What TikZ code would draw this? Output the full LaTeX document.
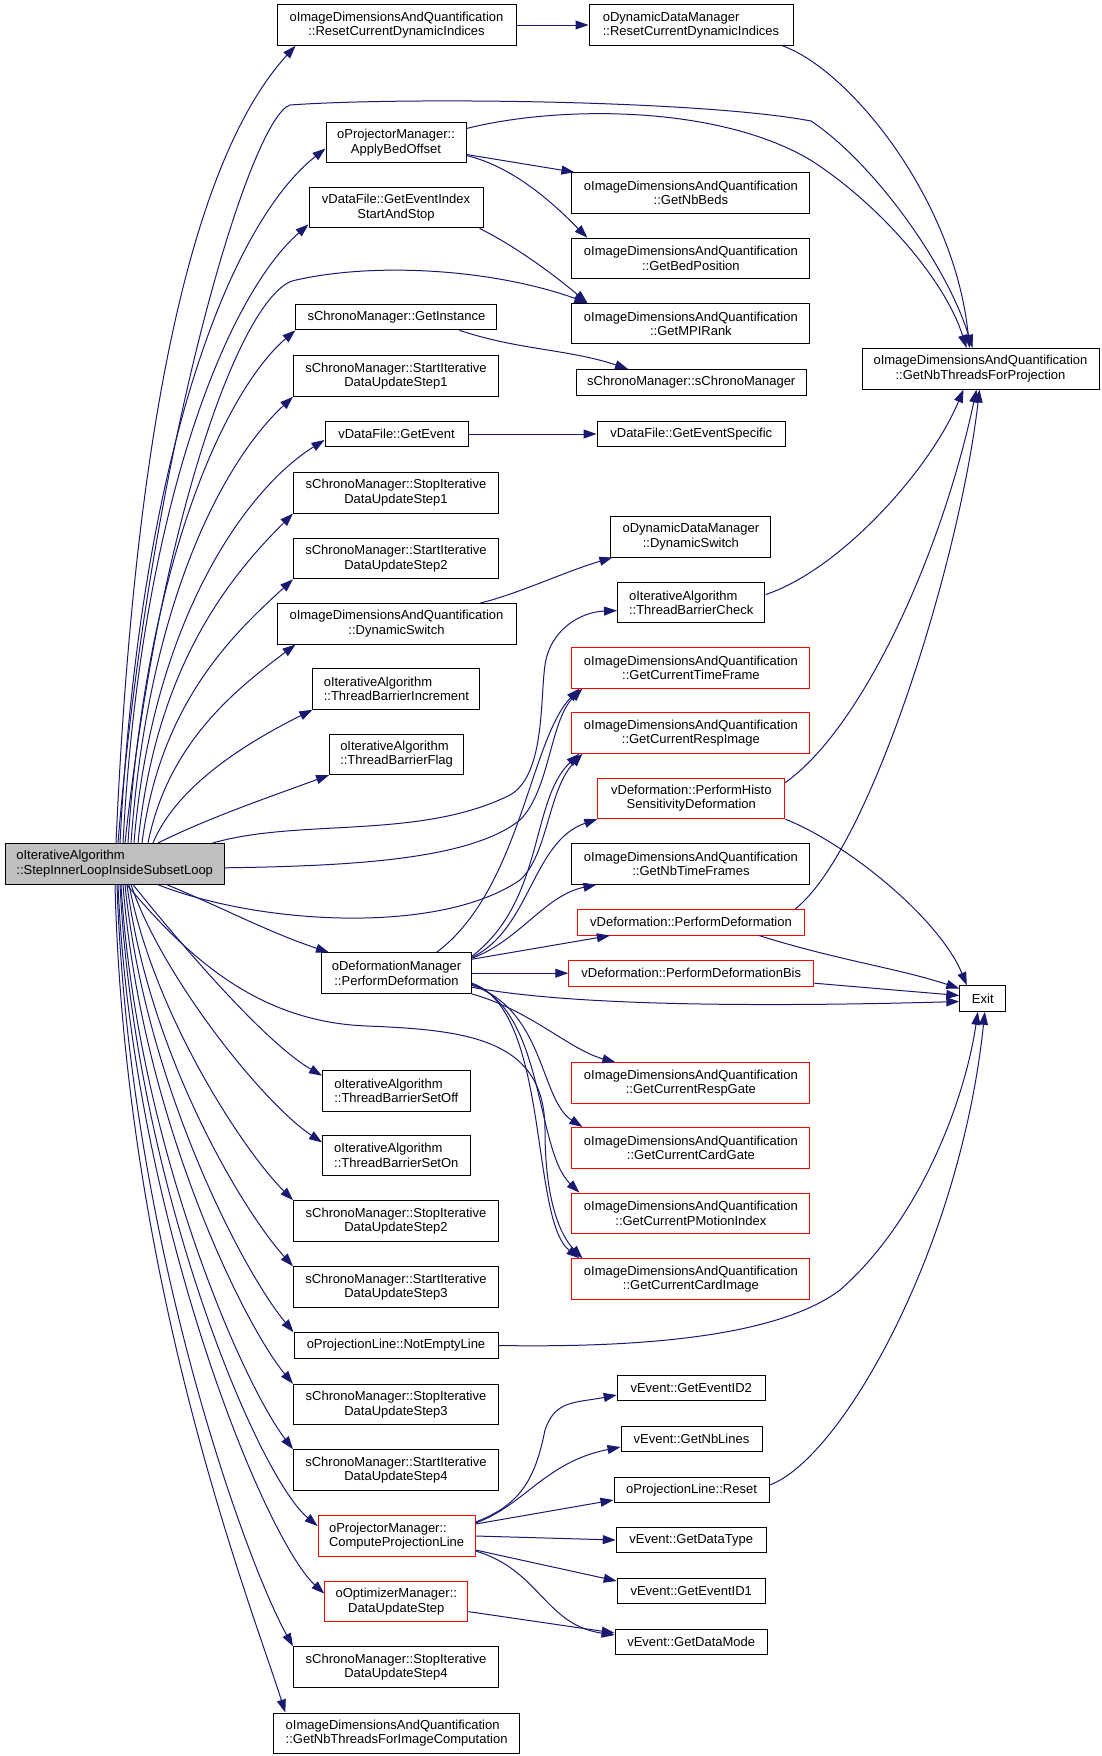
\documentclass[tikz,border=0pt]{standalone}
\usepackage{fontspec}
\setmainfont{Liberation Sans}
\usepackage{xcolor}
\usetikzlibrary{arrows.meta, calc}
\definecolor{edgeblue}{RGB}{25, 25, 112}
\definecolor{maingray}{RGB}{191, 191, 191}
\tikzset{> = { Triangle[length = 13pt, width = 9pt] }}
\tikzset{
	fn/.style = { draw, rectangle, fill = white, line width = 1pt, inner xsep = 3pt, inner ysep = 2pt, minimum height = 40.6pt, align = center, font = \fontsize{13}{14.4}\selectfont },
	fnred/.style = { fn, draw = red },
	fnline/.style = { minimum height = 25.6pt },
	calls/.style = { ->, draw = edgeblue, line width = 1pt },
}

\begin{document}
\begin{tikzpicture}[x = 1pt, y = -1pt]
		\fill [white] (0, 0) rectangle (1101, 1756);

		\node [fn, fill = maingray, align = left, minimum width = 219.4pt] (main) at (114.7, 863.8) {oIterativeAlgorithm\\::StepInnerLoopInsideSubsetLoop};

		\node [fn, minimum width = 239pt] (rcdA) at (396.5, 25) {oImageDimensionsAndQuantification\\::ResetCurrentDynamicIndices};
		\node [fn, minimum width = 140pt] (abo) at (396, 142.5) {oProjectorManager::\\ApplyBedOffset};
		\node [fn, minimum width = 174pt] (geis) at (396, 207.6) {vDataFile::GetEventIndex\\StartAndStop};
		\node [fn, fnline, minimum width = 201pt] (gin) at (396.4, 317) {sChronoManager::GetInstance};
		\node [fn, minimum width = 205pt] (sta1) at (396, 376) {sChronoManager::StartIterative\\DataUpdateStep1};
		\node [fn, fnline, minimum width = 143pt] (gev) at (396.5, 434) {vDataFile::GetEvent};
		\node [fn, minimum width = 205pt] (sto1) at (396, 492.7) {sChronoManager::StopIterative\\DataUpdateStep1};
		\node [fn, minimum width = 205pt] (sta2) at (396, 558.5) {sChronoManager::StartIterative\\DataUpdateStep2};
		\node [fn, minimum width = 239pt] (dsA) at (396.5, 623.8) {oImageDimensionsAndQuantification\\::DynamicSwitch};
		\node [fn, align = left, minimum width = 167pt] (tbi) at (396.4, 689) {oIterativeAlgorithm\\::ThreadBarrierIncrement};
		\node [fn, align = left, minimum width = 134pt] (tbf) at (396.6, 754.3) {oIterativeAlgorithm\\::ThreadBarrierFlag};
		\node [fn, minimum width = 150pt] (odm) at (396.5, 973.2) {oDeformationManager\\::PerformDeformation};
		\node [fn, align = left, minimum width = 147.5pt] (tbsoff) at (396.3, 1090.7) {oIterativeAlgorithm\\::ThreadBarrierSetOff};
		\node [fn, align = left, minimum width = 147.5pt] (tbson) at (396.3, 1155.4) {oIterativeAlgorithm\\::ThreadBarrierSetOn};
		\node [fn, minimum width = 205pt] (sto2) at (396, 1221) {sChronoManager::StopIterative\\DataUpdateStep2};
		\node [fn, minimum width = 205pt] (sta3) at (396, 1287) {sChronoManager::StartIterative\\DataUpdateStep3};
		\node [fn, fnline, minimum width = 204pt] (nel) at (396, 1345.5) {oProjectionLine::NotEmptyLine};
		\node [fn, minimum width = 205pt] (sto3) at (396, 1404.6) {sChronoManager::StopIterative\\DataUpdateStep3};
		\node [fn, minimum width = 205pt] (sta4) at (396, 1470) {sChronoManager::StartIterative\\DataUpdateStep4};
		\node [fnred, align = left, minimum width = 157pt] (cpl) at (396.6, 1536) {oProjectorManager::\\ComputeProjectionLine};
		\node [fnred, minimum width = 143pt] (dus) at (396.3, 1601.6) {oOptimizerManager::\\DataUpdateStep};
		\node [fn, minimum width = 205pt] (sto4) at (396, 1667) {sChronoManager::StopIterative\\DataUpdateStep4};
		\node [fn, align = left, minimum width = 245.6pt] (gntic) at (396.6, 1733.3) {oImageDimensionsAndQuantification\\::GetNbThreadsForImageComputation};

		\node [fn, align = left, minimum width = 204pt] (rcdB) at (691, 25) {oDynamicDataManager\\::ResetCurrentDynamicIndices};
		\node [fn, minimum width = 238pt] (gnb) at (690.9, 193) {oImageDimensionsAndQuantification\\::GetNbBeds};
		\node [fn, minimum width = 238pt] (gbp) at (690.9, 258.5) {oImageDimensionsAndQuantification\\::GetBedPosition};
		\node [fn, minimum width = 238pt] (gmr) at (690.9, 323.6) {oImageDimensionsAndQuantification\\::GetMPIRank};
		\node [fn, fnline, minimum width = 229.4pt] (scm) at (691.3, 382.3) {sChronoManager::sChronoManager};
		\node [fn, fnline, minimum width = 188.5pt] (ges) at (691.3, 434) {vDataFile::GetEventSpecific};
		\node [fn, minimum width = 160pt] (dsB) at (690.9, 536.7) {oDynamicDataManager\\::DynamicSwitch};
		\node [fn, align = left, minimum width = 147.5pt] (tbc) at (691.2, 602.6) {oIterativeAlgorithm\\::ThreadBarrierCheck};
		\node [fnred, minimum width = 238pt] (gctf) at (690.9, 667.8) {oImageDimensionsAndQuantification\\::GetCurrentTimeFrame};
		\node [fnred, minimum width = 238pt] (gcri) at (690.9, 733) {oImageDimensionsAndQuantification\\::GetCurrentRespImage};
		\node [fnred, minimum width = 187pt] (phsd) at (691.3, 798.3) {vDeformation::PerformHisto\\SensitivityDeformation};
		\node [fn, minimum width = 238pt] (gntf) at (690.9, 863.8) {oImageDimensionsAndQuantification\\::GetNbTimeFrames};
		\node [fnred, fnline, minimum width = 227.3pt] (vpd) at (691, 922.3) {vDeformation::PerformDeformation};
		\node [fnred, fnline, minimum width = 245pt] (vpdb) at (691.3, 973.2) {vDeformation::PerformDeformationBis};
		\node [fnred, minimum width = 238pt] (gcrg) at (690.9, 1083) {oImageDimensionsAndQuantification\\::GetCurrentRespGate};
		\node [fnred, minimum width = 238pt] (gccg) at (690.9, 1147.7) {oImageDimensionsAndQuantification\\::GetCurrentCardGate};
		\node [fnred, minimum width = 238pt] (gcpm) at (690.9, 1213.4) {oImageDimensionsAndQuantification\\::GetCurrentPMotionIndex};
		\node [fnred, minimum width = 238pt] (gcci) at (690.9, 1279) {oImageDimensionsAndQuantification\\::GetCurrentCardImage};
		\node [fn, fnline, minimum width = 148pt] (gid2) at (691.2, 1388) {vEvent::GetEventID2};
		\node [fn, fnline, minimum width = 141pt] (gnl) at (691.5, 1439) {vEvent::GetNbLines};
		\node [fn, fnline, minimum width = 155pt] (rst) at (691.5, 1490) {oProjectionLine::Reset};
		\node [fn, fnline, minimum width = 150pt] (gdt) at (691.2, 1540) {vEvent::GetDataType};
		\node [fn, fnline, minimum width = 148pt] (gid1) at (691.2, 1591) {vEvent::GetEventID1};
		\node [fn, fnline, minimum width = 152pt] (gdm) at (691.2, 1642) {vEvent::GetDataMode};

		\node [fn, minimum width = 237pt] (gntp) at (980.5, 368.7) {oImageDimensionsAndQuantification\\::GetNbThreadsForProjection};
		\node [fn, fnline, minimum width = 46pt] (exit) at (982.8, 998.5) {Exit};

		\draw [calls] ($(main.north)+(1.3, 0)$) .. controls +(20, -450) and +(-96, 105) .. ($(rcdA.south west)+(19, 0)$);
		\draw [calls] ($(main.north)+(5.3, 0)$) .. controls +(20, -390) and +(-95, 75) .. ($(abo.west)+(0, 6)$);
		\draw [calls] ($(main.north)+(8.3, 0)$) .. controls +(18, -340) and +(-80, 70) .. ($(geis.south west)+(0, -4)$);
		\draw [calls] ($(main.north)+(13.3, 0)$) .. controls +(18, -280) and +(-70, 60) .. (gin.south west);
		\draw [calls] ($(main.north)+(16.3, 0)$) .. controls +(18, -250) and +(-65, 60) .. (sta1.south west);
		\draw [calls] ($(main.north)+(19.3, 0)$) .. controls +(18, -220) and +(-80, 50) .. ($(gev.west)+(0, 6)$);
		\draw [calls] ($(main.north)+(23.3, 0)$) .. controls +(18, -180) and +(-60, 60) .. (sto1.south west);
		\draw [calls] ($(main.north)+(27.3, 0)$) .. controls +(18, -140) and +(-60, 55) .. (sta2.south west);
		\draw [calls] ($(main.north)+(33.3, 0)$) .. controls +(20, -100) and +(-60, 45) .. ($(dsA.south west)+(19, 0)$);
		\draw [calls] ($(main.north)+(38.3, 0)$) .. controls +(25, -60) and +(-60, 30) .. (tbi.south west);
		\draw [calls] ($(main.north)+(43.3, 0)$) .. controls +(50, -25) and +(-60, 22) .. (tbf.south west);
		\draw [calls] ($(main.north)+(3.3, 0)$) .. controls (150, 450) and (250, 118) .. (290, 105) .. controls (400, 97) and (700, 100) .. (811, 121) .. controls (870, 160) and (945, 260) .. ($(gntp.north)+(-8, 0)$);
		\draw [calls] ($(main.north)+(10.3, 0)$) .. controls (160, 520) and (240, 300) .. (292, 281) .. controls (370, 262) and (490, 268) .. ($(gmr.north west)+(16, 0)$);
		\draw [calls] ($(main.north)+(98, 0)$) .. controls (300, 818) and (420, 840) .. (510, 795) .. controls (545, 775) and (540, 700) .. (545, 665) .. controls (550, 630) and (580, 612) .. ($(tbc.west)+(0, 8)$);
		\draw [calls] ($(main.east)+(0, 4)$) .. controls (350, 866) and (470, 860) .. (520, 820) .. controls (550, 790) and (550, 720) .. ($(gctf.south west)+(11, 0)$);
		\draw [calls] ($(main.south)+(43, 0)$) .. controls (260, 925) and (440, 935) .. (520, 880) .. controls (548, 855) and (548, 790) .. ($(gcri.south west)+(11, 0)$);
		\draw [calls] ($(main.south)+(52, 0)$) .. controls +(60, 25) and +(-60, -20) .. ($(odm.north west)+(8, 0)$);
		\draw [calls] ($(main.south)+(12, 0)$) .. controls (190, 960) and (260, 1022) .. (367, 1026) .. controls (470, 1030) and (545, 1040) .. (545, 1130) .. controls (545, 1200) and (560, 1235) .. ($(gcci.north west)+(11, 0)$);
		\draw [calls] ($(main.south)+(18.3, 0)$) .. controls +(40, 50) and +(-60, -35) .. ($(tbsoff.west)+(0, -15)$);
		\draw [calls] ($(main.south)+(16.3, 0)$) .. controls +(30, 90) and +(-60, -40) .. ($(tbson.west)+(0, -13)$);
		\draw [calls] ($(main.south)+(14.3, 0)$) .. controls +(25, 130) and +(-50, -50) .. (sto2.north west);
		\draw [calls] ($(main.south)+(12.3, 0)$) .. controls +(22, 170) and +(-50, -55) .. (sta3.north west);
		\draw [calls] ($(main.south)+(10.3, 0)$) .. controls +(20, 200) and +(-50, -60) .. (nel.north west);
		\draw [calls] ($(main.south)+(8.3, 0)$) .. controls +(18, 230) and +(-50, -60) .. (sto3.north west);
		\draw [calls] ($(main.south)+(6.3, 0)$) .. controls +(16, 260) and +(-50, -65) .. (sta4.north west);
		\draw [calls] ($(main.south)+(5.3, 0)$) .. controls +(15, 300) and +(-60, -50) .. ($(cpl.west)+(0, -10)$);
		\draw [calls] ($(main.south)+(3.3, 0)$) .. controls +(14, 330) and +(-60, -55) .. ($(dus.west)+(0, -8)$);
		\draw [calls] ($(main.south)+(2.3, 0)$) .. controls +(12, 360) and +(-45, -80) .. (sto4.north west);
		\draw [calls] ($(main.south)+(0.3, 0)$) .. controls +(10, 400) and +(-35, -110) .. ($(gntic.north west)+(12, 0)$);

		\draw [calls] (rcdA) -- (rcdB);
		\draw [calls] ($(rcdB.south east)+(-11, 0)$) .. controls (850, 70) and (955, 200) .. ($(gntp.north)+(-11, 0)$);
		\draw [calls] ($(abo.east)+(0, -14)$) .. controls (560, 105) and (720, 105) .. (812, 161) .. controls (880, 205) and (945, 280) .. ($(gntp.north)+(-14, 0)$);
		\draw [calls] ($(abo.east)+(0, 12)$) -- ($(gnb.north west)+(3, 0)$);
		\draw [calls] ($(abo.east)+(0, 13)$) .. controls +(50, 12) and +(-30, -30) .. ($(gbp.north west)+(16, 0)$);
		\draw [calls] ($(geis.south east)+(-4, 0)$) .. controls +(40, 20) and +(-30, -25) .. ($(gmr.north west)+(16, 0)$);
		\draw [calls] ($(gin.south east)+(-38, 0)$) .. controls +(60, 20) and +(-60, -20) .. ($(scm.north west)+(52, 0)$);
		\draw [calls] (gev) -- (ges);
		\draw [calls] ($(dsA.north east)+(-36, 0)$) .. controls +(40, -10) and +(-50, 15) .. ($(dsB.south west)+(2, 0)$);
		\draw [calls] ($(tbc.east)+(0, -8)$) .. controls (840, 570) and (930, 470) .. ($(gntp.south)+(-17, 0)$);
		\draw [calls] ($(phsd.north east)+(0, 5)$) .. controls (860, 730) and (940, 560) .. ($(gntp.south)+(-4, 0)$);
		\draw [calls] (phsd.south east) .. controls (850, 845) and (940, 920) .. ($(exit.north)+(-16, 0)$);
		\draw [calls] ($(vpd.north east)+(-10, 0)$) .. controls (870, 850) and (960, 560) .. ($(gntp.south)+(-1, 0)$);
		\draw [calls] ($(vpd.south east)+(-46, 0)$) .. controls +(80, 25) and +(-60, -20) .. ($(exit.west)+(0, -10)$);
		\draw [calls] ($(vpdb.east)+(0, 10)$) -- ($(exit.west)+(0, -3)$);

		\draw [calls] ($(odm.east)+(0, 14)$) .. controls (580, 1008) and (800, 1006) .. ($(exit.west)+(0, 3)$);
		\draw [calls] (odm) -- (vpdb);
		\draw [calls] ($(odm.east)+(0, -14)$) -- ($(vpd.south west)+(33, 0)$);
		\draw [calls] ($(odm.east)+(0, -15)$) .. controls +(48, -18) and +(-52, 11) .. ($(gntf.south west)+(25, 0)$);
		\draw [calls] ($(odm.east)+(0, -16)$) .. controls +(58, -27) and +(-65, 22) .. (phsd.south west);
		\draw [calls] ($(odm.east)+(0, -17)$) .. controls (545, 900) and (530, 800) .. ($(gcri.south west)+(8, 0)$);
		\draw [calls] ($(odm.north)+(40, 0)$) .. controls (520, 890) and (530, 740) .. ($(gctf.south west)+(8, 0)$);
		\draw [calls] (odm.south east) .. controls (530, 1010) and (570, 1050) .. ($(gcrg.north west)+(44, 0)$);
		\draw [calls] ($(odm.east)+(0, 12)$) .. controls (545, 1010) and (540, 1100) .. ($(gccg.north west)+(11, 0)$);
		\draw [calls] ($(odm.east)+(0, 11)$) .. controls (545, 1010) and (535, 1150) .. ($(gcpm.north west)+(8, 0)$);
		\draw [calls] ($(odm.east)+(0, 10)$) .. controls (550, 1010) and (530, 1220) .. ($(gcci.north west)+(8, 0)$);

		\draw [calls] (nel.east) .. controls (650, 1348) and (780, 1335) .. (840, 1290) .. controls (920, 1220) and (965, 1100) .. ($(exit.south)+(-5, 0)$);
		\draw [calls] ($(rst.east)+(0, -5)$) .. controls (840, 1460) and (960, 1250) .. ($(exit.south)+(2, 0)$);

		\draw [calls] ($(cpl.east)+(0, -14)$) .. controls (520, 1505) and (535, 1480) .. (545, 1430) .. controls (555, 1400) and (575, 1403) .. ($(gid2.west)+(0, 7)$);
		\draw [calls] ($(cpl.east)+(0, -13)$) .. controls (525, 1505) and (545, 1462) .. ($(gnl.west)+(0, 8)$);
		\draw [calls] ($(cpl.east)+(0, -12)$) -- ($(rst.west)+(0, 10)$);
		\draw [calls] (cpl.east) -- (gdt.west);
		\draw [calls] ($(cpl.east)+(0, 14)$) -- ($(gid1.west)+(0, -10)$);
		\draw [calls] ($(cpl.east)+(0, 15)$) .. controls (540, 1570) and (545, 1625) .. ($(gdm.west)+(0, -7)$);
		\draw [calls] ($(dus.east)+(0, 10)$) -- ($(gdm.west)+(0, -9)$);
	\end{tikzpicture}
\end{document}
